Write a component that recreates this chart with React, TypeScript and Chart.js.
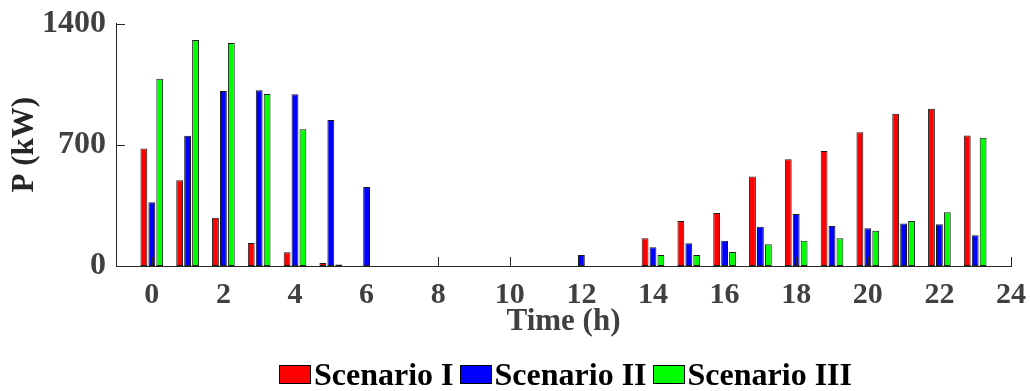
import React, { useEffect, useRef } from "react";
import { Chart, registerables } from "chart.js";

Chart.register(...registerables);

const hours = [0, 1, 2, 3, 4, 5, 6, 7, 8, 9, 10, 11, 12, 13, 14, 15, 16, 17, 18, 19, 20, 21, 22, 23];
const scenarioI = [679, 495, 279, 133, 79, 17, 0, 0, 0, 0, 0, 0, 0, 0, 160, 260, 306, 516, 616, 664, 772, 879, 908, 754];
const scenarioII = [368, 752, 1010, 1014, 991, 843, 456, 0, 0, 0, 0, 0, 63, 0, 108, 131, 146, 227, 300, 231, 218, 246, 241, 177];
const scenarioIII = [1081, 1305, 1287, 993, 789, 8, 0, 0, 0, 0, 0, 0, 0, 0, 63, 63, 81, 125, 146, 160, 204, 260, 310, 741];

const xTickValues = [0, 2, 4, 6, 8, 10, 12, 14, 16, 18, 20, 22, 24];
const yTickValues = [0, 700, 1400];

const seriesNames = ["Scenario I", "Scenario II", "Scenario III"];
const seriesColors = ["#ff0000", "#0000ff", "#00ff00"];
const seriesValues = [scenarioI, scenarioII, scenarioIII];

const FONT = '"Liberation Serif", "Times New Roman", serif';

const innerTicks = {
  id: "innerTicks",
  afterDatasetsDraw(chart: any) {
    const { ctx, chartArea, scales } = chart;
    ctx.save();
    ctx.strokeStyle = "#262626";
    ctx.lineWidth = 1;
    ctx.beginPath();
    scales.x.ticks.forEach((t: any) => {
      const px = Math.round(scales.x.getPixelForValue(t.value)) + 0.5;
      ctx.moveTo(px, chartArea.bottom);
      ctx.lineTo(px, chartArea.bottom - 9);
    });
    scales.y.ticks.forEach((t: any) => {
      const py = Math.round(scales.y.getPixelForValue(t.value)) + 0.5;
      ctx.moveTo(chartArea.left, py);
      ctx.lineTo(chartArea.left + 9, py);
    });
    ctx.stroke();
    ctx.restore();
  },
};

export default function App() {
  const canvasRef = useRef<HTMLCanvasElement | null>(null);

  useEffect(() => {
    if (!canvasRef.current) return;
    const chart = new Chart(canvasRef.current, {
      type: "bar",
      data: {
        datasets: seriesNames.map((name, k) => ({
          label: name,
          data: hours.map((h, i) => ({ x: h, y: seriesValues[k][i] })),
          backgroundColor: seriesColors[k],
          borderColor: "#1a1a1a",
          borderWidth: 1,
          borderSkipped: false,
          categoryPercentage: 0.665,
          barPercentage: 0.86,
        })),
      },
      options: {
        animation: false,
        responsive: false,
        maintainAspectRatio: false,
        devicePixelRatio: 1,
        layout: { padding: { top: 23.5, right: 19, left: 0, bottom: 0 } },
        plugins: {
          legend: { display: false },
          tooltip: { enabled: false },
        },
        scales: {
          x: {
            type: "linear",
            min: -1,
            max: 24,
            offset: false,
            afterBuildTicks: (s: any) => {
              s.ticks = xTickValues.map((v) => ({ value: v }));
            },
            afterFit: (s: any) => {
              s.height = 125;
              s.paddingLeft = 0;
              s.paddingRight = 0;
            },
            grid: { display: false, drawTicks: false, offset: false },
            border: { display: true, color: "#262626", width: 1 },
            ticks: {
              autoSkip: false,
              maxRotation: 0,
              padding: 11,
              color: "#404040",
              font: { family: FONT, weight: "bold", size: 30 },
              callback: (v: any) => String(v),
            },
            title: {
              display: true,
              text: "Time (h)",
              color: "#404040",
              font: { family: FONT, weight: "bold", size: 31 },
              padding: { top: 0, bottom: 50 },
            },
          },
          y: {
            min: 0,
            max: 1400,
            afterBuildTicks: (s: any) => {
              s.ticks = yTickValues.map((v) => ({ value: v }));
            },
            afterFit: (s: any) => {
              s.width = 116;
              s.paddingTop = 0;
              s.paddingBottom = 0;
            },
            grid: { display: false, drawTicks: false },
            border: { display: true, color: "#262626", width: 1 },
            ticks: {
              padding: 10,
              color: "#404040",
              font: { family: FONT, weight: "bold", size: 32 },
              callback: (v: any) => String(v),
            },
            title: {
              display: true,
              text: "P (kW)",
              color: "#262626",
              font: { family: FONT, weight: "bold", size: 31 },
              padding: { top: 6, bottom: 0 },
            },
          },
        },
      } as any,
      plugins: [innerTicks],
    });
    return () => chart.destroy();
  }, []);

  return (
    <div style={{ position: "absolute", left: 0, top: 0, width: 1030, height: 391, background: "#fff" }}>
      <canvas ref={canvasRef} width={1030} height={391} style={{ display: "block" }} />
      <div
        style={{
          position: "absolute",
          left: 279,
          top: 358,
          display: "flex",
          alignItems: "center",
          fontFamily: FONT,
          fontWeight: "bold",
          fontSize: 32,
          lineHeight: "32px",
          color: "#000",
          whiteSpace: "nowrap",
        }}
      >
        {seriesNames.map((name, k) => (
          <div key={name} style={{ display: "flex", alignItems: "center", marginRight: 6 }}>
            <span
              style={{
                display: "inline-block",
                width: 32,
                height: 19,
                boxSizing: "border-box",
                border: "1px solid #000",
                background: seriesColors[k],
              }}
            />
            <span style={{ marginLeft: 3 }}>{name}</span>
          </div>
        ))}
      </div>
    </div>
  );
}
